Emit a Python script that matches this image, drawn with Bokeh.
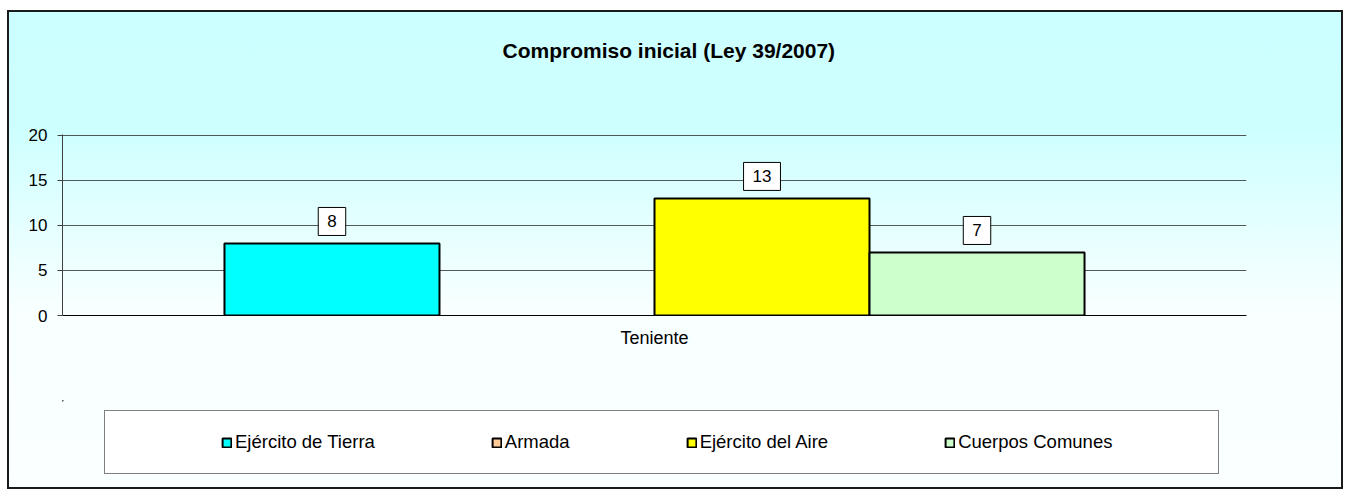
import math
from bokeh.plotting import figure
from bokeh.models import (FactorRange, Range1d, FixedTicker, Legend, LegendItem,
                          ColumnDataSource)
from bokeh.layouts import column
from bokeh.transform import dodge
from bokeh.core.properties import value
from bokeh.embed import file_html
from bokeh.resources import INLINE

# ---- data ----
chart_title = "Compromiso inicial (Ley 39/2007)"
categories = ["Teniente"]
series = ["Ejército de Tierra", "Armada", "Ejército del Aire", "Cuerpos Comunes"]
values = [8, 0, 13, 7]
colors = ["#00FFFF", "#FFCC99", "#FFFF00", "#CCFFCC"]
y_ticks = [0, 5, 10, 15, 20]

FONT = "Liberation Sans"
W = 1336
BAR_W = 0.1816


def blank_panel(height, top=0, bottom=0):
    f = figure(x_range=Range1d(0, 1), y_range=Range1d(-2, -1), width=W, height=height,
               output_backend="svg", toolbar_location=None,
               x_axis_location=None, y_axis_location=None,
               min_border_left=55, min_border_right=97, min_border_top=top,
               min_border_bottom=bottom)
    f.grid.visible = False
    f.outline_line_color = None
    f.background_fill_alpha = 0
    f.border_fill_alpha = 0
    return f


# ---- title panel ----
t = blank_panel(104)
t.title.text = chart_title
t.title.text_font = FONT
t.title.text_font_size = "21px"
t.title.text_font_style = "bold"
t.title.align = "left"
t.title.offset = 440
t.title.vertical_align = "bottom"
t.title.text_color = "black"
try:
    t.title.standoff = 52
except Exception:
    pass

# ---- chart ----
p = figure(x_range=FactorRange(*categories), y_range=Range1d(0, 20.1),
           width=W, height=286, output_backend="svg", toolbar_location=None,
           min_border_left=55, min_border_right=97, min_border_top=20,
           min_border_bottom=85)
p.border_fill_alpha = 0
p.background_fill_alpha = 0
p.outline_line_color = None

p.xgrid.visible = False
p.ygrid.grid_line_color = "#222222"
p.ygrid.grid_line_alpha = 0.75

p.yaxis.ticker = FixedTicker(ticks=y_ticks)
p.yaxis.minor_tick_line_color = None
p.yaxis.major_tick_in = 0
p.yaxis.major_tick_out = 5
p.yaxis.axis_line_color = "#404040"
p.yaxis.major_tick_line_color = "#404040"
p.yaxis.major_label_text_font = FONT
p.yaxis.major_label_text_font_size = "17px"
p.yaxis.major_label_text_color = "black"
p.yaxis.major_label_standoff = 10

p.xaxis.major_tick_line_color = None
p.xaxis.axis_line_color = "black"
p.xaxis.major_label_text_font = FONT
p.xaxis.major_label_text_font_size = "18px"
p.xaxis.major_label_text_color = "black"
p.xaxis.major_label_standoff = 6

# ---- legend panel ----
q = blank_panel(89)

n = len(series)
items = []
for i, (name, v, c) in enumerate(zip(series, values, colors)):
    off = (i - (n - 1) / 2) * BAR_W
    src = ColumnDataSource(dict(cat=[categories[0]],
                                val=[v if v else math.nan],
                                lbl=[str(v) if v else ""]))
    p.vbar(x=dodge("cat", off, range=p.x_range), top="val", width=BAR_W,
           source=src, fill_color=c, line_color="black", line_width=2)
    p.text(x=dodge("cat", off, range=p.x_range), y="val", text="lbl", source=src,
           text_align="center", text_baseline="bottom", y_offset=-8,
           text_font_size="17px", text_font=value(FONT),
           text_color="black",
           background_fill_color="white", border_line_color="black",
           border_line_width=1, padding=dict(left=9, right=9, top=8, bottom=8))
    # legend key for the same series (kept outside q's visible ranges)
    r = q.vbar(x=-5, top="val", bottom=0, width=0.1, source=src,
               fill_color=c, line_color="black", line_width=2)
    items.append(LegendItem(label=name, renderers=[r]))

legend = Legend(items=items, orientation="horizontal", location=(42, 15),
                spacing=116, margin=0, glyph_width=11, glyph_height=11,
                label_standoff=3, label_width=1, label_height=20,
                label_text_font=FONT, label_text_font_size="18.5px",
                label_text_color="black",
                border_line_color="black", border_line_width=1,
                background_fill_color="white", background_fill_alpha=1)
try:
    legend.padding = dict(left=116, right=106, top=20, bottom=20)
except Exception:
    legend.padding = 20
q.add_layout(legend)

layout = column(t, p, q, spacing=0, styles={
    "margin-left": "7px",
    "margin-top": "10px",
    "background": "linear-gradient(to bottom, #CCFFFF 0%, #CEFFFF 25%, #F8FFFF 62%, #FAFFFF 100%)",
    "outline": "2px solid #1a1a1a",
    "outline-offset": "-2px",
})

open("out.html", "w").write(file_html(layout, INLINE))
